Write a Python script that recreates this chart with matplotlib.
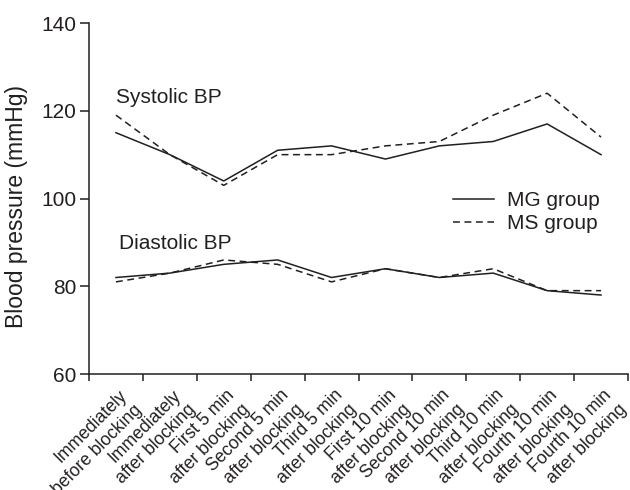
import matplotlib
matplotlib.use("Agg")
import matplotlib.pyplot as plt
import matplotlib.transforms as mtransforms
import numpy as np

plt.rcParams["font.family"] = ["Liberation Sans", "DejaVu Sans"]

INK = "#231f20"

time_labels = [
    "Immediately\nbefore blocking",
    "Immediately\nafter blocking",
    "First 5 min\nafter blocking",
    "Second 5 min\nafter blocking",
    "Third 5 min\nafter blocking",
    "First 10 min\nafter blocking",
    "Second 10 min\nafter blocking",
    "Third 10 min\nafter blocking",
    "Fourth 10 min\nafter blocking",
    "Fourth 10 min\nafter blocking",
]

mg_systolic = [115, 110, 104, 111, 112, 109, 112, 113, 117, 110]
ms_systolic = [119, 110, 103, 110, 110, 112, 113, 119, 124, 114]
mg_diastolic = [82, 83, 85, 86, 82, 84, 82, 83, 79, 78]
ms_diastolic = [81, 83, 86, 85, 81, 84, 82, 84, 79, 79]

y_ticks = [60, 80, 100, 120, 140]

fig = plt.figure(figsize=(6.3, 4.9), dpi=100)
ax = fig.add_axes([0.1413, 0.2367, 0.8555, 0.7163])

x = np.arange(len(time_labels))
dash = (4.5, 3)

ax.plot(x, mg_systolic, color=INK, lw=1.1, label="MG group")
ax.plot(x, ms_systolic, color=INK, lw=1.1, dashes=dash, label="MS group")
ax.plot(x, mg_diastolic, color=INK, lw=1.1)
ax.plot(x, ms_diastolic, color=INK, lw=1.1, dashes=dash)

ax.text(0.0, 121.7, "Systolic BP", fontsize=15, color=INK, va="baseline")
ax.text(0.05, 88.6, "Diastolic BP", fontsize=15, color=INK, va="baseline")

ax.set_xlim(-0.5, len(time_labels) - 0.5)
ax.set_ylim(60, 140)
ax.set_yticks(y_ticks)

# boundary ticks unlabelled, labels sit between them
ax.set_xticks(np.arange(len(time_labels) + 1) - 0.5)
ax.set_xticklabels([])
ax.set_xticks(x, minor=True)
ax.set_xticklabels(time_labels, minor=True, rotation=45, ha="right", va="top",
                   multialignment="right", linespacing=1.3, fontsize=12.7,
                   color=INK)
ax.tick_params(axis="x", which="minor", length=0, pad=9)
ax.tick_params(axis="both", which="major", direction="out",
               width=1.1, color=INK, labelsize=15, labelcolor=INK)
ax.tick_params(axis="x", which="major", length=4.8)
ax.tick_params(axis="y", length=6.3, pad=3)

shift = mtransforms.ScaledTranslation(29 / 100, 0, fig.dpi_scale_trans)
for lab in ax.get_xticklabels(minor=True):
    lab.set_transform(lab.get_transform() + shift)

for side in ("top", "right"):
    ax.spines[side].set_visible(False)
for side in ("left", "bottom"):
    ax.spines[side].set_linewidth(1.1)
    ax.spines[side].set_color(INK)

ax.set_ylabel("Blood pressure (mmHg)", fontsize=16.5, color=INK)
ax.yaxis.set_label_coords(-0.113, 0.477)

ax.legend(loc="upper left", bbox_to_anchor=(0.675, 0.522), frameon=False,
          fontsize=15, handlelength=2.0, handletextpad=0.6, labelspacing=0.22,
          borderpad=0, borderaxespad=0, labelcolor=INK)

fig.savefig("out.png", dpi=100)
